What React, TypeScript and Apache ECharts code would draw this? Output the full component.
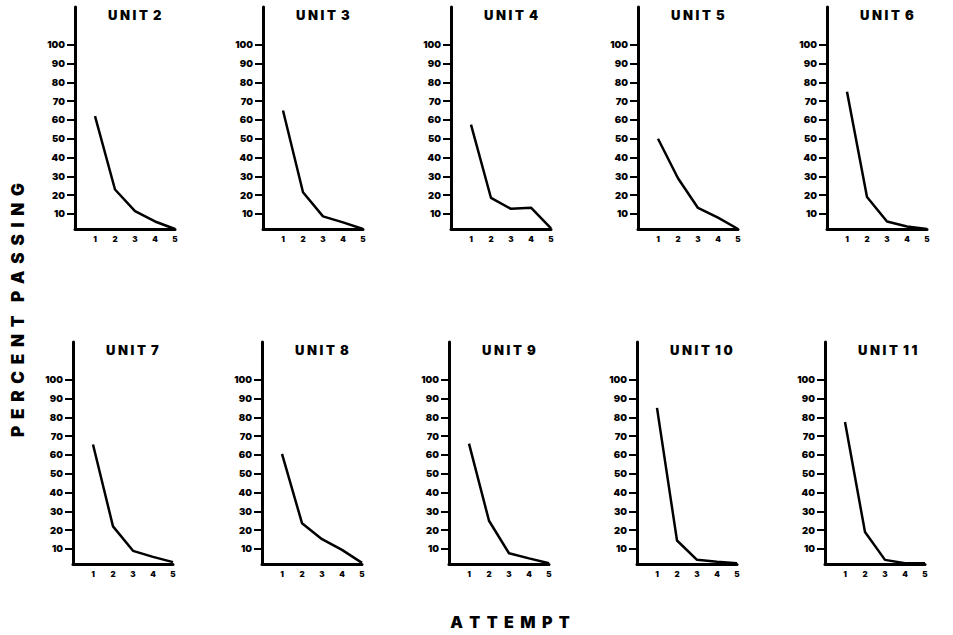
import React, { useEffect, useRef } from "react";
import * as echarts from "echarts";

const units = ["UNIT 2", "UNIT 3", "UNIT 4", "UNIT 5", "UNIT 6", "UNIT 7", "UNIT 8", "UNIT 9", "UNIT 10", "UNIT 11"];
const attempts = [1, 2, 3, 4, 5];
const unit2 = [62, 23, 11.5, 6, 2];
const unit3 = [65, 21.5, 8.7, 5.5, 2];
const unit4 = [57.5, 18.5, 12.7, 13.3, 2.3];
const unit5 = [50, 29, 13.2, 8, 2];
const unit6 = [75, 19, 6, 3.3, 2];
const unit7 = [65.5, 22, 9, 5.8, 3];
const unit8 = [60.5, 23.7, 15.2, 9.5, 2.6];
const unit9 = [66, 25, 7.7, 5, 2.4];
const unit10 = [85, 14.5, 4.2, 3.2, 2.4];
const unit11 = [77.5, 19, 4.2, 2.4, 2.4];
const seriesValues = [unit2, unit3, unit4, unit5, unit6, unit7, unit8, unit9, unit10, unit11];
const yTicks = [10, 20, 30, 40, 50, 60, 70, 80, 90, 100];

const spaced = (s: string) => {
  const [w, n] = s.split(" ");
  return w.split("").join(" ") + "  " + n.split("").join(" ");
};

export default function App() {
  const ref = useRef<HTMLDivElement>(null);
  useEffect(() => {
    if (!ref.current) return;
    const chart = echarts.init(ref.current, null, { renderer: "svg" });
    const lefts = [[75, 263, 451, 638, 827], [73, 262, 449, 637, 825]];
    const tops = [7, 342];
    const grids: any[] = [];
    const xAxes: any[] = [];
    const yAxes: any[] = [];
    const series: any[] = [];
    const titles: any[] = [];
    const font = "Inter";
    seriesValues.forEach((vals, i) => {
      const r = Math.floor(i / 5);
      const c = i % 5;
      grids.push({ left: lefts[r][c], top: tops[r], width: 100, height: 222 });
      xAxes.push({
        type: "value",
        gridIndex: i,
        min: 0,
        max: 5,
        interval: 1,
        axisLine: { show: true, onZero: false, lineStyle: { color: "#000", width: 3 } },
        axisTick: { show: false },
        splitLine: { show: false },
        axisLabel: {
          formatter: (v: number) => (v === 0 ? "" : String(v)),
          margin: 6,
          color: "#000",
          fontSize: 8,
          fontWeight: 900,
          fontFamily: font,
        },
      });
      yAxes.push({
        type: "value",
        gridIndex: i,
        min: 2,
        max: 120,
        axisLine: { show: true, onZero: false, lineStyle: { color: "#000", width: 3 } },
        axisTick: { show: true, customValues: yTicks, length: 8, lineStyle: { color: "#000", width: 2 } },
        axisLabel: {
          customValues: yTicks,
          margin: 10,
          color: "#000",
          fontSize: 9.5,
          fontWeight: 900,
          fontFamily: font,
        },
        splitLine: { show: false },
      });
      series.push({
        type: "line",
        xAxisIndex: i,
        yAxisIndex: i,
        data: attempts.map((a, k) => [a, vals[k]]),
        symbol: "none",
        lineStyle: { color: "#000", width: 2.5 },
      });
      titles.push({
        text: spaced(units[i]),
        left: lefts[r][c] + 33,
        top: r === 0 ? 8 : 343,
        padding: 0,
        textStyle: { color: "#000", fontSize: 13, fontWeight: 900, fontFamily: font },
      });
    });
    chart.setOption({
      animation: false,
      backgroundColor: "#fff",
      title: titles,
      grid: grids,
      xAxis: xAxes,
      yAxis: yAxes,
      series,
      graphic: [
        {
          type: "text",
          x: 18,
          y: 310,
          rotation: Math.PI / 2,
          style: {
            text: "P  E  R  C  E  N  T    P  A  S  S  I  N  G",
            fill: "#000",
            font: `900 17px '${font}'`,
            align: "center",
            verticalAlign: "middle",
          },
        },
        {
          type: "text",
          x: 510,
          y: 622,
          style: {
            text: "A  T  T  E  M  P  T",
            fill: "#000",
            font: `900 16px '${font}'`,
            align: "center",
            verticalAlign: "middle",
          },
        },
      ],
    });
    return () => chart.dispose();
  }, []);
  return <div ref={ref} style={{ position: "fixed", left: 0, top: 0, width: 953, height: 635 }} />;
}
